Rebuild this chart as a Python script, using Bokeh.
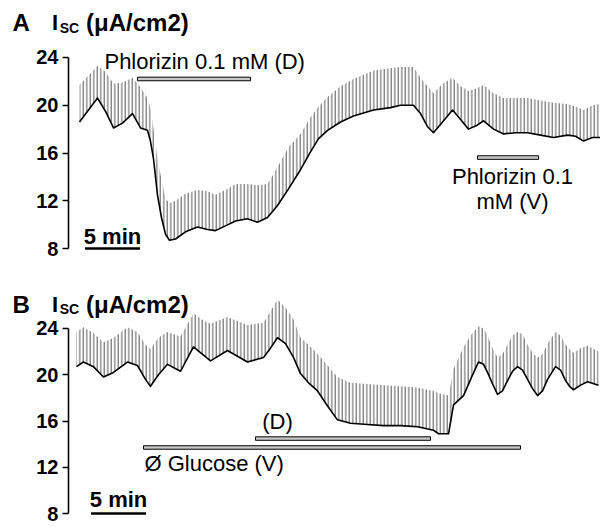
from bokeh.plotting import figure
from bokeh.models import Label, FixedTicker
from bokeh.layouts import column
from bokeh.embed import file_html
from bokeh.resources import INLINE

FONT = "Liberation Sans"

# ---------------- Panel A data (time in min, Isc in uA/cm2) ----------------
tA = [1.00, 1.82, 2.64, 3.36, 4.09, 4.91, 5.82, 6.55, 7.18, 7.45, 7.73, 8.09,
      8.45, 8.82, 9.18, 9.73, 10.64, 11.73, 12.64, 13.36, 14.27, 15.18, 16.27,
      17.18, 18.09, 19.00, 20.00, 21.09, 22.00, 22.73, 23.55, 24.73, 25.91,
      27.73, 29.27, 30.18, 31.36, 32.00, 32.64, 33.18, 34.00, 34.91, 35.64,
      36.36, 37.09, 37.73, 38.64, 39.55, 40.64, 41.73, 42.91, 44.09, 45.36,
      46.09, 46.82, 47.64, 48.36]
lowA = [18.6, 19.6, 20.6, 19.5, 18.1, 18.5, 19.3, 18.1, 17.9, 17.0, 15.5, 12.5,
        10.6, 9.2, 8.7, 8.8, 9.4, 9.8, 9.6, 9.5, 9.9, 10.3, 10.5,
        10.2, 10.6, 11.6, 13.0, 14.6, 16.1, 17.2, 17.9, 18.6, 19.1,
        19.6, 19.8, 20.0, 20.0, 19.3, 18.2, 17.7, 18.6, 19.6, 18.8,
        18.0, 18.3, 18.7, 18.0, 17.6, 17.7, 17.7, 17.5, 17.3, 17.5,
        17.4, 17.0, 17.3, 17.3]
upA = [21.7, 22.5, 23.3, 22.8, 21.8, 21.9, 22.3, 21.5, 20.6, 19.8, 18.0, 15.5,
       13.8, 12.2, 11.8, 12.0, 12.6, 12.9, 12.8, 12.5, 12.9, 13.4, 13.4,
       13.3, 13.4, 14.8, 16.5, 17.6, 19.0, 19.9, 20.7, 21.6, 22.2,
       22.9, 23.1, 23.2, 23.2, 22.3, 21.6, 21.0, 21.8, 22.3, 21.6,
       21.2, 21.4, 21.7, 21.0, 20.6, 20.6, 20.6, 20.4, 20.2, 20.1,
       19.9, 19.6, 20.0, 20.1]

# ---------------- Panel B data ----------------
tB = [0.73, 1.36, 2.27, 3.18, 4.09, 5.36, 6.27, 7.00, 7.45, 8.18, 9.00, 10.18,
      11.36, 12.27, 12.91, 14.45, 16.27, 17.73, 18.36, 19.00, 19.73, 20.45,
      21.09, 21.82, 22.64, 23.55, 24.45, 25.64, 27.18, 28.64, 30.18, 31.73,
      33.18, 33.64, 34.55, 35.00, 35.91, 36.64, 37.27, 37.73, 38.09, 38.55,
      39.00, 39.45, 39.91, 40.36, 40.82, 41.27, 41.73, 42.18, 42.64, 43.09,
      43.55, 44.27, 44.73, 45.18, 45.55, 45.91, 46.55, 47.18, 48.18]
lowB = [20.7, 21.1, 20.7, 19.8, 20.2, 21.1, 20.8, 19.6, 19.0, 20.0, 20.9, 20.3,
        22.4, 21.7, 21.2, 22.1, 21.1, 21.5, 22.3, 23.2, 22.7, 21.5,
        20.1, 19.3, 18.6, 17.3, 16.1, 15.8, 15.7, 15.6, 15.6, 15.5,
        15.2, 14.9, 14.9, 17.4, 18.2, 19.8, 21.1, 20.9, 20.2, 19.2,
        18.3, 18.6, 19.5, 20.3, 20.7, 20.4, 19.6, 18.8, 18.2, 18.6,
        19.6, 20.7, 20.4, 19.5, 19.0, 18.7, 19.1, 19.4, 19.1]
upB = [23.7, 24.1, 23.6, 22.8, 23.2, 24.1, 23.7, 22.6, 22.2, 23.2, 23.7, 23.3,
       25.3, 24.7, 24.4, 25.0, 24.3, 24.5, 25.5, 26.5, 25.8, 24.8,
       23.2, 22.6, 21.8, 20.8, 19.8, 19.3, 19.2, 19.1, 19.0, 18.9,
       18.6, 18.4, 18.2, 20.5, 22.4, 23.5, 24.2, 24.0, 23.4, 22.3,
       21.5, 21.8, 22.6, 23.4, 23.7, 23.5, 22.6, 21.9, 21.5, 21.8,
       22.7, 23.7, 23.4, 22.6, 22.2, 21.9, 22.3, 22.5, 22.0]

y_ticks = [8, 12, 16, 20, 24]

# treatment periods [start, end] (min)
phlorizin_D = [6.27, 16.55]
phlorizin_V = [37.18, 42.73]
glucose_D = [17.0, 32.91]
glucose_V = [6.82, 41.09]
scale_len = 5

X_RANGE = (-6.18, 48.36)


def make_panel(height, yr, t, lo, up):
    p = figure(width=600, height=height, x_range=X_RANGE, y_range=yr,
               output_backend="svg", toolbar_location=None,
               x_axis_location=None, y_axis_location="left",
               min_border_left=0, min_border_right=0,
               min_border_top=0, min_border_bottom=0)
    p.outline_line_color = None
    p.grid.visible = False
    p.background_fill_color = "white"
    p.border_fill_color = "white"
    ax = p.yaxis[0]
    ax.fixed_location = 0
    ax.ticker = FixedTicker(ticks=y_ticks)
    ax.bounds = (8, 24)
    ax.axis_line_width = 1.6
    ax.axis_line_color = "black"
    ax.major_tick_line_width = 1.6
    ax.major_tick_out = 6
    ax.major_tick_in = 0
    ax.minor_tick_out = 0
    ax.minor_tick_in = 0
    ax.major_label_standoff = 4
    ax.major_label_text_font = FONT
    ax.major_label_text_font_style = "bold"
    ax.major_label_text_font_size = "20px"
    ax.major_label_text_color = "black"
    p.varea(x=t, y1=lo, y2=up, fill_alpha=0, hatch_pattern="vertical_line",
            hatch_scale=3.5, hatch_weight=0.9, hatch_color="#222222", hatch_alpha=0.85)
    p.line(t, lo, line_width=1.6, line_color="black", line_join="round")
    return p


def lab(p, x, y, text, size, bold=False, align="left"):
    p.add_layout(Label(x=x, y=y, text=text, text_font=FONT,
                       text_font_size=size,
                       text_font_style="bold" if bold else "normal",
                       text_align=align, text_baseline="alphabetic",
                       text_color="black"))


def header(p, letter, y, ysub):
    lab(p, -5.1, y, letter, "24px", True)
    lab(p, -1.5, y, "I", "22px", True)
    lab(p, -0.8, ysub, "SC", "14px", True)
    lab(p, 1.6, y, "(\u03bcA/cm2)", "24px", True)


def bar(p, span, y, h):
    p.quad(left=[span[0]], right=[span[1]], bottom=[y - h], top=[y + h],
           fill_color="#c8c8c8", line_color="black", line_width=1)


# ---------------- Panel A ----------------
pA = make_panel(260, (7.0, 28.77), tA, lowA, upA)
header(pA, "A", 26.89, 26.5)
lab(pA, 3.27, 23.65, "Phlorizin 0.1 mM (D)", "22px")
bar(pA, phlorizin_D, 22.2, 0.15)
bar(pA, phlorizin_V, 15.62, 0.15)
lab(pA, 40.36, 14.0, "Phlorizin 0.1", "22px", align="center")
lab(pA, 40.36, 11.95, "mM (V)", "22px", align="center")
lab(pA, 4.0, 9.0, "5 min", "22px", True, align="center")
pA.segment(x0=[4.0 - scale_len / 2], x1=[4.0 + scale_len / 2], y0=[8.0], y1=[8.0],
           line_width=2.5, line_color="black")

# ---------------- Panel B ----------------
pB = make_panel(267, (6.79, 29.88), tB, lowB, upB)
header(pB, "B", 26.1, 25.72)
lab(pB, 19.0, 15.95, "(D)", "22px", align="center")
bar(pB, glucose_D, 14.48, 0.15)
bar(pB, glucose_V, 13.71, 0.15)
lab(pB, 6.91, 12.3, "\u00d8 Glucose (V)", "22px")
lab(pB, 4.55, 9.2, "5 min", "22px", True, align="center")
pB.segment(x0=[4.55 - scale_len / 2], x1=[4.55 + scale_len / 2], y0=[8.0], y1=[8.0],
           line_width=2.5, line_color="black")

layout = column(pA, pB, spacing=0)
open("out.html", "w").write(file_html(layout, INLINE))
